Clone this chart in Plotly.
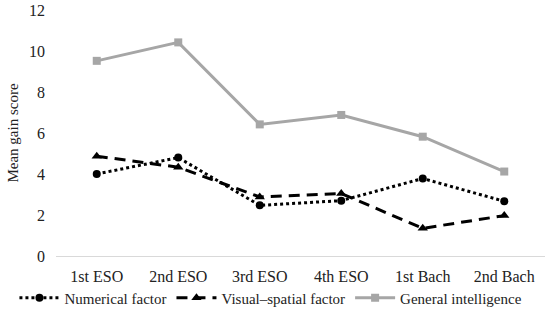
import plotly.graph_objects as go

categories = ["1st ESO", "2nd ESO", "3rd ESO", "4th ESO", "1st Bach", "2nd Bach"]
numerical = [4.0, 4.8, 2.47, 2.7, 3.78, 2.67]
visual = [4.87, 4.33, 2.88, 3.05, 1.35, 1.97]
general = [9.52, 10.42, 6.42, 6.88, 5.82, 4.12]

font_family = "Liberation Serif, DejaVu Serif, serif"

fig = go.Figure()
fig.add_trace(go.Scatter(x=categories, y=numerical, name="Numerical factor",
                         mode="lines+markers",
                         line=dict(color="black", width=3, dash="dot"),
                         marker=dict(symbol="circle", size=8, color="black")))
fig.add_trace(go.Scatter(x=categories, y=visual, name="Visual–spatial factor",
                         mode="lines+markers",
                         line=dict(color="black", width=3, dash="11px,7px"),
                         marker=dict(symbol="triangle-up", size=9, color="black")))
fig.add_trace(go.Scatter(x=categories, y=general, name="General intelligence",
                         mode="lines+markers",
                         line=dict(color="#a6a6a6", width=3),
                         marker=dict(symbol="square", size=8, color="#a6a6a6")))

fig.update_layout(
    width=550, height=320,
    margin=dict(l=56, r=5, t=10, b=64, autoexpand=False),
    paper_bgcolor="white", plot_bgcolor="white",
    font=dict(family=font_family, size=16, color="#222222"),
    showlegend=True,
    legend=dict(orientation="h", x=-0.085, xanchor="left", y=-0.171, yanchor="middle",
                bgcolor="rgba(0,0,0,0)",
                font=dict(size=15), itemwidth=40, tracegroupgap=0),
    xaxis=dict(range=[-0.5, 5.5], showgrid=False, showline=False, zeroline=False,
               ticks="", tickfont=dict(size=16), ticklabelstandoff=9, automargin=False),
    yaxis=dict(range=[0, 12], dtick=2, showgrid=False, showline=False,
               zeroline=True, zerolinecolor="#d9d9d9", zerolinewidth=1,
               ticks="", tickfont=dict(size=16), ticklabelstandoff=10, automargin=False,
               title=dict(text="Mean gain score", font=dict(size=15), standoff=6)),
)

fig.write_html("out.html", config={"displayModeBar": False},
               post_script="document.body.style.margin='0';")
